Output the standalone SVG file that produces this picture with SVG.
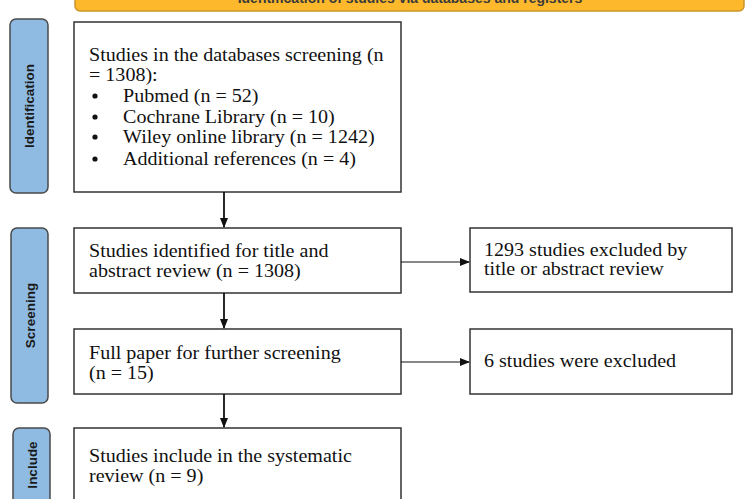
<svg xmlns="http://www.w3.org/2000/svg" width="750" height="499" viewBox="0 0 750 499">
<style>
.box{fill:#fff;stroke:#333;stroke-width:1.5}
.lab{fill:#8fbbe2;stroke:#4a4a4a;stroke-width:1.5}
.t{font-family:"Liberation Serif","Times New Roman",serif;font-size:18px;fill:#111}
.lt{font-family:"Liberation Sans",Arial,sans-serif;font-size:13.5px;font-weight:bold;fill:#1a1a1a;text-anchor:middle}
.c{stroke:#111;fill:none}
</style>
<defs>
<marker id="ah" markerWidth="10" markerHeight="10" refX="9" refY="5" orient="auto" markerUnits="userSpaceOnUse">
<path d="M0,1 L10,5 L0,9 z" fill="#111"/>
</marker>
</defs>
<g id="banner">
<rect x="75" y="-20" width="669" height="31" rx="5" fill="#fdb92b" stroke="#c9952a" stroke-width="1.5"/>
<text x="410" y="3" font-family="Liberation Sans,Arial,sans-serif" font-size="14" font-weight="bold" fill="#3a3a3a" text-anchor="middle">Identification of studies via databases and registers</text>
</g>
<g id="label-identification">
<rect class="lab" x="10" y="19" width="38" height="174" rx="6"/>
<text class="lt" transform="translate(34,106) rotate(-90)">Identification</text>
</g>
<g id="label-screening">
<rect class="lab" x="11" y="228" width="37" height="175" rx="6"/>
<text class="lt" transform="translate(34.5,315.5) rotate(-90)">Screening</text>
</g>
<g id="label-include">
<rect class="lab" x="13" y="428" width="37" height="90" rx="6"/>
<text class="lt" transform="translate(36.5,465) rotate(-90)">Include</text>
</g>
<g id="box-databases">
<rect class="box" x="74" y="22" width="327" height="170"/>
<circle cx="95" cy="96" r="2.6" fill="#111"/>
<circle cx="95" cy="117" r="2.6" fill="#111"/>
<circle cx="95" cy="137" r="2.6" fill="#111"/>
<circle cx="95" cy="159" r="2.6" fill="#111"/>
<g transform="translate(89 0) scale(1.115 1)">
<text class="t" x="0" y="61">Studies in the databases screening (n</text>
<text class="t" x="0" y="81">= 1308):</text>
<text class="t" x="30.5" y="102">Pubmed (n = 52)</text>
<text class="t" x="30.5" y="123">Cochrane Library (n = 10)</text>
<text class="t" x="30.5" y="143">Wiley online library (n = 1242)</text>
<text class="t" x="30.5" y="165">Additional references (n = 4)</text>
</g>
</g>
<g id="box-title-abstract">
<rect class="box" x="74" y="228" width="327" height="65"/>
<g transform="translate(89 0) scale(1.115 1)">
<text class="t" x="0" y="257">Studies identified for title and</text>
<text class="t" x="0" y="277">abstract review (n = 1308)</text>
</g>
</g>
<g id="box-excluded-1293">
<rect class="box" x="470" y="228" width="262" height="64"/>
<g transform="translate(484 0) scale(1.115 1)">
<text class="t" x="0" y="256">1293 studies excluded by</text>
<text class="t" x="0" y="275">title or abstract review</text>
</g>
</g>
<g id="box-full-paper">
<rect class="box" x="74" y="329" width="327" height="65"/>
<g transform="translate(89 0) scale(1.115 1)">
<text class="t" x="0" y="359">Full paper for further screening</text>
<text class="t" x="0" y="379">(n = 15)</text>
</g>
</g>
<g id="box-excluded-6">
<rect class="box" x="470" y="329" width="262" height="65"/>
<g transform="translate(484 0) scale(1.115 1)">
<text class="t" x="0" y="367">6 studies were excluded</text>
</g>
</g>
<g id="box-included">
<rect class="box" x="74" y="428" width="327" height="90"/>
<g transform="translate(89 0) scale(1.115 1)">
<text class="t" x="0" y="462">Studies include in the systematic</text>
<text class="t" x="0" y="482">review (n = 9)</text>
</g>
</g>
<g id="connectors">
<line class="c" x1="224" y1="192" x2="224" y2="227" stroke-width="1.8" marker-end="url(#ah)"/>
<line class="c" x1="224" y1="293" x2="224" y2="328" stroke-width="1.8" marker-end="url(#ah)"/>
<line class="c" x1="224" y1="394" x2="224" y2="427" stroke-width="1.8" marker-end="url(#ah)"/>
<line class="c" x1="401" y1="262" x2="469" y2="262" stroke-width="1.2" marker-end="url(#ah)"/>
<line class="c" x1="401" y1="362" x2="469" y2="362" stroke-width="1.2" marker-end="url(#ah)"/>
</g>
</svg>
